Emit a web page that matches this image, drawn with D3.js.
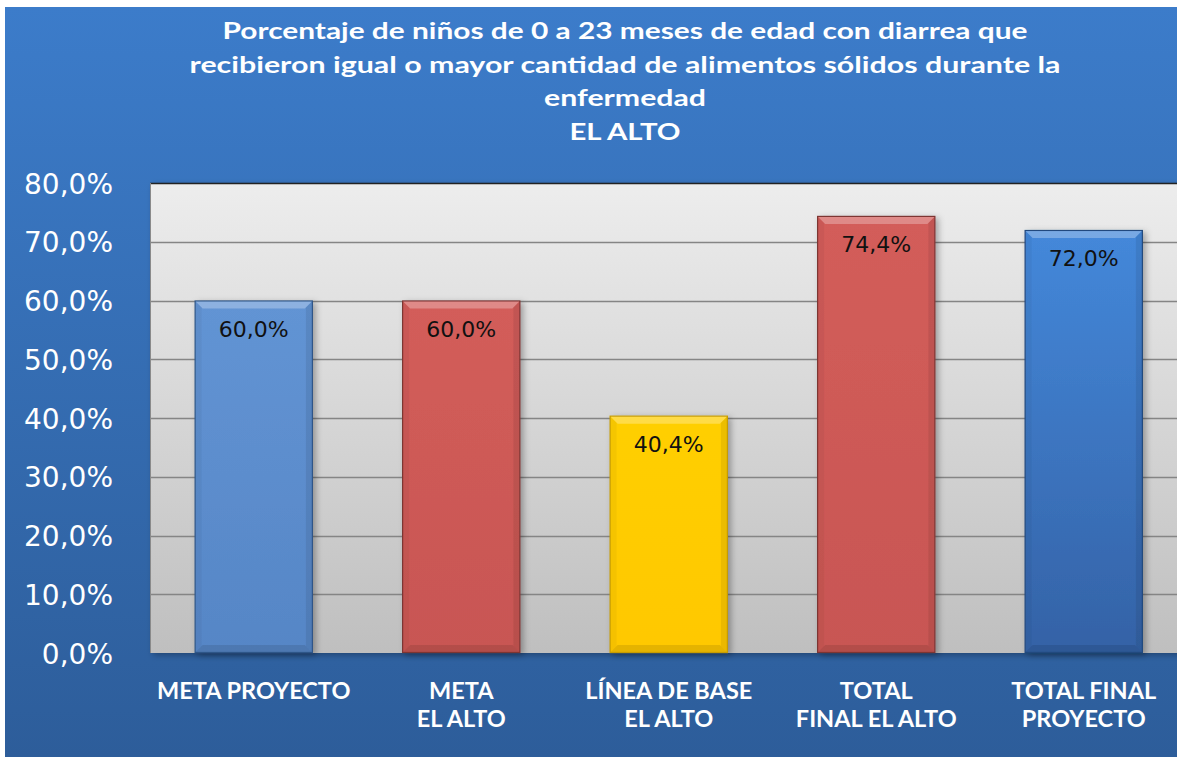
<!DOCTYPE html>
<meta charset="utf-8">
<title>Porcentaje de niños con diarrea - El Alto</title>
<script src="https://d3js.org/d3.v7.min.js"></script>
<style>
  body { margin: 0; background: #fff; }
  svg { display: block; }
</style>
<body>
<div id="chart"></div>
<script>
const categories = [["META PROYECTO"], ["META", "EL ALTO"], ["LÍNEA DE BASE", "EL ALTO"], ["TOTAL", "FINAL EL ALTO"], ["TOTAL FINAL", "PROYECTO"]]
const values = [0.600, 0.600, 0.404, 0.744, 0.720]
const barColors = [["#6294d4", "#5686c6"], ["#d35d5a", "#c85653"], ["#ffcf00", "#ffc800"], ["#d35d5a", "#c85653"], ["#4488da", "#3462a6"]]
const barEdges = ["#2f5788", "#7d3533", "#c79c00", "#7d3533", "#244a7e"]
const yTicks = [0, 0.1, 0.2, 0.3, 0.4, 0.5, 0.6, 0.7, 0.8]
const titleLines = ["Porcentaje de niños de 0 a 23 meses de edad con diarrea que",
  "recibieron igual o mayor cantidad de alimentos sólidos  durante la",
  "enfermedad", "EL  ALTO"]
const titleWidths = [805, 871, 162, 111]

const width = 1177, height = 757
const plot = {left: 150, top: 183, right: 1187.5, bottom: 653}

const locale = d3.formatLocale({decimal: ",", thousands: ".", grouping: [3], currency: ["", ""]})
const pct = locale.format(".1%")

const svg = d3.select("#chart").append("svg")
    .attr("width", width)
    .attr("height", height)

const defs = svg.append("defs")
const bg = defs.append("linearGradient").attr("id", "bg").attr("x1", 0).attr("y1", 0).attr("x2", 0).attr("y2", 1)
bg.append("stop").attr("offset", 0).attr("stop-color", "#3c7cca")
bg.append("stop").attr("offset", 1).attr("stop-color", "#2d5d9a")
const pg = defs.append("linearGradient").attr("id", "plotbg").attr("x1", 0).attr("y1", 0).attr("x2", 0).attr("y2", 1)
pg.append("stop").attr("offset", 0).attr("stop-color", "#ededed")
pg.append("stop").attr("offset", 1).attr("stop-color", "#bfbfbf")
barColors.forEach((c, i) => {
  const g = defs.append("linearGradient").attr("id", "bar" + i).attr("x1", 0).attr("y1", 0).attr("x2", 0).attr("y2", 1)
  g.append("stop").attr("offset", 0).attr("stop-color", c[0])
  g.append("stop").attr("offset", 1).attr("stop-color", c[1])
})
const shadow = defs.append("filter").attr("id", "shadow").attr("x", "-20%").attr("y", "-20%").attr("width", "140%").attr("height", "140%")
shadow.append("feDropShadow").attr("dx", 3).attr("dy", 2).attr("stdDeviation", 3).attr("flood-color", "#000").attr("flood-opacity", 0.3)

svg.append("rect")
    .attr("x", 5).attr("y", 7)
    .attr("width", width - 5).attr("height", height - 7)
    .attr("fill", "url(#bg)")

// title
svg.append("g")
    .attr("fill", "#fff")
    .attr("font-family", "Lato, 'Open Sans', sans-serif")
    .attr("font-weight", "bold")
    .attr("font-size", 22)
    .attr("text-anchor", "middle")
  .selectAll("text")
  .data(titleLines)
  .join("text")
    .attr("x", 625)
    .attr("y", (d, i) => 39 + i * 33.5)
    .attr("textLength", (d, i) => titleWidths[i])
    .attr("lengthAdjust", "spacingAndGlyphs")
    .text(d => d)

const x = d3.scaleBand()
    .domain(d3.range(categories.length))
    .range([plot.left, plot.right])
    .paddingInner(0.43)
    .paddingOuter(0.215)

const y = d3.scaleLinear()
    .domain([0, 0.8])
    .range([plot.bottom, plot.top])

// plot area
svg.append("rect")
    .attr("x", plot.left).attr("y", plot.top)
    .attr("width", width - plot.left + 10).attr("height", plot.bottom - plot.top)
    .attr("fill", "url(#plotbg)")
    .attr("filter", "url(#shadow)")

svg.append("g")
    .attr("stroke", "#858585")
    .attr("stroke-width", 1.3)
  .selectAll("line")
  .data(yTicks.slice(1, -1))
  .join("line")
    .attr("x1", plot.left).attr("x2", width)
    .attr("y1", d => Math.round(y(d)) + 0.5).attr("y2", d => Math.round(y(d)) + 0.5)

svg.append("line")
    .attr("x1", plot.left).attr("x2", width)
    .attr("y1", plot.top + 0.5).attr("y2", plot.top + 0.5)
    .attr("stroke", "#222").attr("stroke-width", 1.5)
svg.append("line")
    .attr("x1", plot.left + 0.5).attr("x2", plot.left + 0.5)
    .attr("y1", plot.top).attr("y2", plot.bottom)
    .attr("stroke", "#8a8a8a").attr("stroke-width", 1)

// y axis labels
const yAxis = d3.axisLeft(y).tickValues(yTicks).tickFormat(pct).tickSize(0).tickPadding(0)
svg.append("g")
    .attr("transform", `translate(113,0)`)
    .call(yAxis)
    .call(g => g.select(".domain").remove())
    .call(g => g.selectAll("text")
        .attr("fill", "#fff")
        .attr("font-family", "'DejaVu Sans', Verdana, sans-serif")
        .attr("font-size", 28)
        .attr("dy", "0.36em"))

// bars
const bars = svg.append("g")
  .selectAll("g")
  .data(values)
  .join("g")
    .attr("filter", "url(#shadow)")

bars.append("rect")
    .attr("x", (d, i) => x(i) + 0.5)
    .attr("y", d => y(d) + 0.5)
    .attr("width", x.bandwidth() - 1)
    .attr("height", d => y(0) - y(d) - 1)
    .attr("fill", (d, i) => `url(#bar${i})`)
    .attr("stroke", (d, i) => barEdges[i])
    .attr("stroke-width", 1.2)

// top bevel
bars.append("path")
    .attr("d", (d, i) => {
      const x0 = x(i) + 1, x1 = x(i) + x.bandwidth() - 1, y0 = y(d) + 1, b = 7
      return `M${x0},${y0}L${x1},${y0}L${x1 - b},${y0 + b}L${x0 + b},${y0 + b}Z`
    })
    .attr("fill", "#fff")
    .attr("opacity", 0.28)
// side shading
bars.append("path")
    .attr("d", (d, i) => {
      const x1 = x(i) + x.bandwidth() - 1, y0 = y(d) + 1, y1 = y(0) - 1, b = 6
      return `M${x1},${y0}L${x1},${y1}L${x1 - b},${y1 - b}L${x1 - b},${y0 + b}Z`
    })
    .attr("fill", "#000")
    .attr("opacity", 0.08)
bars.append("path")
    .attr("d", (d, i) => {
      const x0 = x(i) + 1, y0 = y(d) + 1, y1 = y(0) - 1, b = 6
      return `M${x0},${y0}L${x0},${y1}L${x0 + b},${y1 - b}L${x0 + b},${y0 + b}Z`
    })
    .attr("fill", "#000")
    .attr("opacity", 0.04)
bars.append("path")
    .attr("d", (d, i) => {
      const x0 = x(i) + 1, x1 = x(i) + x.bandwidth() - 1, y1 = y(0) - 1, b = 7
      return `M${x0},${y1}L${x1},${y1}L${x1 - b},${y1 - b}L${x0 + b},${y1 - b}Z`
    })
    .attr("fill", "#000")
    .attr("opacity", 0.1)

// value labels
svg.append("g")
    .attr("font-family", "'DejaVu Sans', Verdana, sans-serif")
    .attr("font-size", 22)
    .attr("fill", "#111")
    .attr("text-anchor", "middle")
  .selectAll("text")
  .data(values)
  .join("text")
    .attr("x", (d, i) => x(i) + x.bandwidth() / 2)
    .attr("y", d => y(d) + 36)
    .text(d => pct(d))

// category labels
svg.append("g")
    .attr("font-family", "Lato, 'Open Sans', sans-serif")
    .attr("font-weight", "bold")
    .attr("font-size", 23.5)
    .attr("fill", "#fff")
    .attr("text-anchor", "middle")
  .selectAll("text")
  .data(categories)
  .join("text")
    .attr("x", (d, i) => x(i) + x.bandwidth() / 2)
    .attr("y", 699)
    .selectAll("tspan")
    .data(d => d)
    .join("tspan")
      .attr("x", function() { return d3.select(this.parentNode).attr("x") })
      .attr("dy", (d, i) => i ? 28 : 0)
      .text(d => d)
</script>
</body>
